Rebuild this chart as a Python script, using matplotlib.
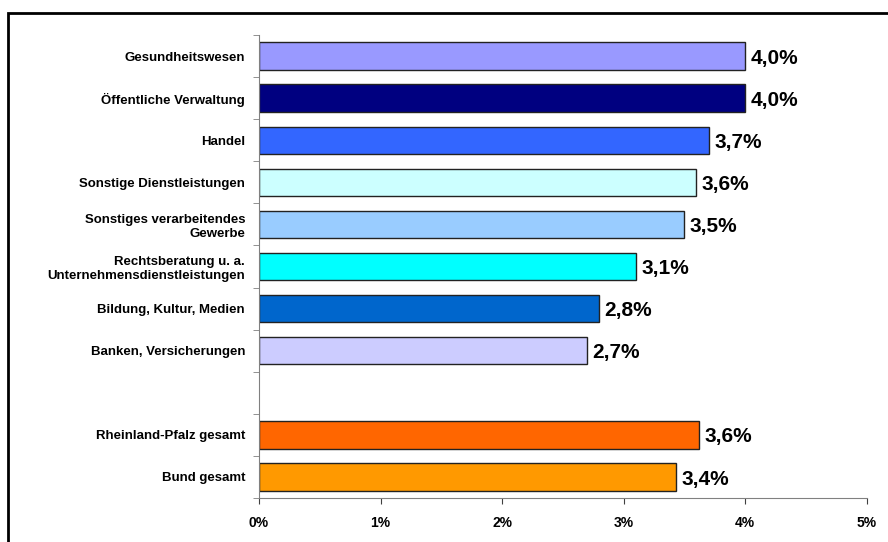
import numpy as np
import matplotlib.pyplot as plt
from matplotlib.patches import Rectangle

plt.rcParams['font.family'] = ['Liberation Sans', 'DejaVu Sans']
plt.rcParams['font.weight'] = 'bold'

# branches (top to bottom), empty slot separates the totals
labels = ["Gesundheitswesen", "Öffentliche Verwaltung", "Handel",
          "Sonstige Dienstleistungen", "Sonstiges verarbeitendes\nGewerbe",
          "Rechtsberatung u. a.\nUnternehmensdienstleistungen",
          "Bildung, Kultur, Medien", "Banken, Versicherungen", "",
          "Rheinland-Pfalz gesamt", "Bund gesamt"]
values = [4.0, 4.0, 3.7, 3.6, 3.5, 3.1, 2.8, 2.7, np.nan, 3.62, 3.43]
value_text = ["4,0%", "4,0%", "3,7%", "3,6%", "3,5%", "3,1%", "2,8%", "2,7%", "",
              "3,6%", "3,4%"]
colors = ["#9999FF", "#000080", "#3366FF", "#CCFFFF", "#99CCFF", "#00FFFF",
          "#0066CC", "#CCCCFF", "white", "#FF6600", "#FF9900"]

fig = plt.figure(figsize=(8.88, 5.42), dpi=100)
ax = fig.add_axes([259 / 888, 1 - 498 / 542, 607.5 / 888, 463 / 542])

y = np.arange(len(labels))
vals = np.array(values)
ok = ~np.isnan(vals)
ax.barh(y[ok], vals[ok], height=0.65, color=np.array(colors)[ok],
        edgecolor="#222222", linewidth=1)
for yi, v, t in zip(y, values, value_text):
    if t:
        ax.text(v + 0.045, yi + 0.05, t, va="center", ha="left", fontsize=15,
                fontweight="bold")

ax.set_ylim(len(labels) - 0.5, -0.5)
ax.set_xlim(0, 5)
ax.set_yticks(y)
ax.set_yticklabels(labels, fontsize=9.5, fontweight="bold", linespacing=1.25)
ax.set_yticks(np.arange(len(labels) + 1) - 0.5, minor=True)
ax.tick_params(axis="y", which="major", length=0, pad=10)
ax.tick_params(axis="y", which="minor", length=4, color="#808080", direction="out")
ax.set_xticks(np.arange(6))
ax.set_xticklabels([f"{i}%" for i in range(6)], fontsize=10, fontweight="bold")
ax.tick_params(axis="x", length=4, color="#404040", pad=9)
for s in ["top", "right"]:
    ax.spines[s].set_visible(False)
ax.spines["left"].set_color("#808080")
ax.spines["bottom"].set_color("#808080")

# outer frame
fig.patches.append(Rectangle((8 / 888, -0.1), 1.0, 1.1 - 13 / 542,
                             transform=fig.transFigure, fill=False,
                             edgecolor="black", linewidth=2))

fig.savefig("out.png", dpi=100)
